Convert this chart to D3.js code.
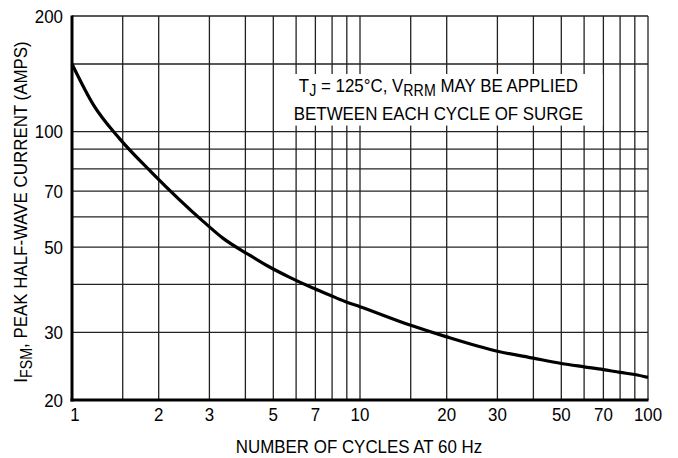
<!DOCTYPE html>
<html>
<head>
<meta charset="utf-8">
<script src="https://cdn.jsdelivr.net/npm/d3@7"></script>
<style>
  html, body { margin: 0; padding: 0; background: #fff; }
  svg text { font-family: "Liberation Sans", Arial, Helvetica, sans-serif; fill: #000; }
</style>
</head>
<body>
<svg id="chart" width="678" height="458"></svg>
<script>
// ---- data ----
const cycles  = [1, 1.19, 1.46, 1.9, 2.86, 3.34, 4.15, 4.8, 5.75, 6.83, 7.8, 8.87, 10, 15, 20, 30, 40, 50, 60, 70, 80, 90, 100];
const current = [150, 117, 96, 78, 58.3, 52.8, 47.6, 44.6, 41.6, 39.2, 37.6, 36.1, 35.0, 31.3, 29.2, 26.8, 25.7, 24.9, 24.4, 24.0, 23.6, 23.3, 22.9];
const xTickLabels = [1, 2, 3, 5, 7, 10, 20, 30, 50, 70, 100];
const yTickLabels = [20, 30, 50, 70, 100, 200];
const xGrid = [1.5, 2, 3, 4, 5, 6, 7, 8, 9, 10, 15, 20, 30, 40, 50, 60, 70, 80, 90, 100];
const yGrid = [30, 40, 50, 60, 70, 80, 90, 100, 150, 200];
const xTitle = "NUMBER OF CYCLES AT 60 Hz";
const noteLine2 = "BETWEEN EACH CYCLE OF SURGE";

// ---- layout ----
const L = 72, R = 648, T = 16, B = 400;
const FS = 19, SUB = 16, SX = 0.89;
const svg = d3.select("#chart");
const x = d3.scaleLog().domain([1, 100]).range([L, R]);
const y = d3.scaleLog().domain([20, 200]).range([B, T]);

function label(px, py, anchor, rot) {
  const g = svg.append("g")
    .attr("transform", `translate(${px},${py})${rot ? " rotate(" + rot + ")" : ""} scale(${SX},1)`);
  return g.append("text").attr("text-anchor", anchor).attr("font-size", FS);
}

// grid
svg.append("g").selectAll("line").data(xGrid).join("line")
  .attr("x1", d => x(d)).attr("x2", d => x(d)).attr("y1", T).attr("y2", B)
  .attr("stroke", "#222").attr("stroke-width", 1.3);
svg.append("g").selectAll("line").data(yGrid).join("line")
  .attr("x1", L).attr("x2", R).attr("y1", d => y(d)).attr("y2", d => y(d))
  .attr("stroke", "#222").attr("stroke-width", 1.3);

// annotation box (white, covers grid)
const boxX1 = x(5) + 1, boxX2 = x(70) - 1;
svg.append("rect").attr("x", boxX1).attr("y", y(150) + 10)
  .attr("width", boxX2 - boxX1).attr("height", (y(100) - 6) - (y(150) + 10))
  .attr("fill", "#fff");

// axes frame
svg.append("line").attr("x1", L).attr("x2", L).attr("y1", T - 0.5).attr("y2", B + 1.5)
  .attr("stroke", "#000").attr("stroke-width", 3);
svg.append("line").attr("x1", L - 1.5).attr("x2", R + 0.5).attr("y1", B).attr("y2", B)
  .attr("stroke", "#000").attr("stroke-width", 3);

// curve
const line = d3.line().x((d, i) => x(cycles[i])).y(d => y(d)).curve(d3.curveMonotoneX);
svg.append("path").datum(current).attr("d", line)
  .attr("fill", "none").attr("stroke", "#000").attr("stroke-width", 3.2)
  .attr("stroke-linejoin", "round");

// tick labels
xTickLabels.forEach(d => label(x(d) + (d === 1 ? 3 : 0), 421, "middle").text(d));
yTickLabels.forEach(d => label(63, y(d) + 6.5, "end").text(d));

// x title
label(359, 453, "middle").text(xTitle);

// y title
const yt = label(27, (T + B) / 2 + 4, "middle", -90);
yt.append("tspan").text("I");
yt.append("tspan").attr("font-size", SUB).attr("dy", 5).text("FSM");
yt.append("tspan").attr("dy", -5).text(", PEAK HALF-WAVE CURRENT (AMPS)");

// annotation
const cx = (boxX1 + boxX2) / 2;
const n1 = label(cx, 92, "middle");
n1.append("tspan").text("T");
n1.append("tspan").attr("font-size", SUB).attr("dy", 4).text("J");
n1.append("tspan").attr("dy", -4).text(" = 125°C, V");
n1.append("tspan").attr("font-size", SUB).attr("dy", 4).text("RRM");
n1.append("tspan").attr("dy", -4).text(" MAY BE APPLIED");
label(cx, 120, "middle").text(noteLine2);
</script>
</body>
</html>
